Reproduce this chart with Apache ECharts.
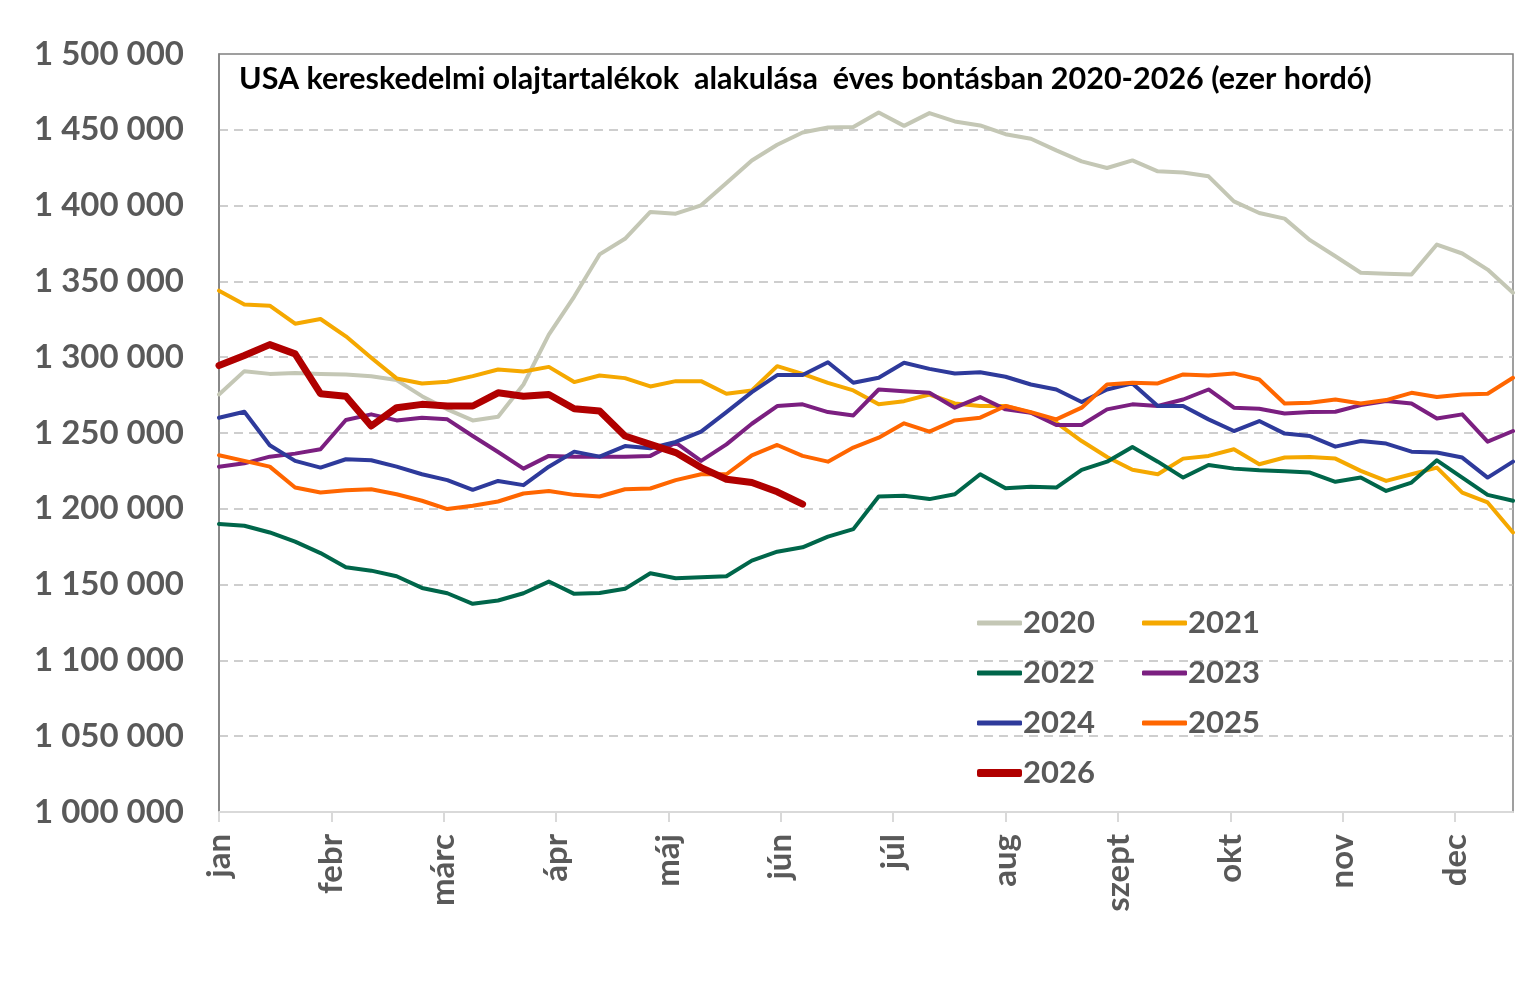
<!DOCTYPE html>
<html>
<head>
<meta charset="utf-8">
<script src="https://cdn.jsdelivr.net/npm/echarts@6/dist/echarts.min.js"></script>
<style>
html,body{margin:0;padding:0;background:#fff;}
#chart{width:1527px;height:997px;}
</style>
</head>
<body>
<div id="chart"></div>
<script>
// ---- data (ezer hordó), weekly values ----
const titleText = 'USA kereskedelmi olajtartalékok  alakulása  éves bontásban 2020-2026 (ezer hordó)';
const monthLabels = ['jan','febr','márc','ápr','máj','jún','júl','aug','szept','okt','nov','dec'];
const yTicks = [1000000, 1500000, 50000]; // min, max, step
const seriesNames = ['2020','2021','2022','2023','2024','2025','2026'];

const s2020 = [1275400,1290800,1289000,1289500,1289000,1288600,1287500,1284900,1274300,1265600,1258300,1260700,1282000,1314900,1340000,1367800,1378100,1395800,1394700,1400200,1414900,1429800,1440100,1448200,1451500,1451800,1461400,1452600,1461000,1455500,1452900,1447100,1444100,1436400,1429200,1424800,1429800,1422600,1421900,1419300,1402800,1395100,1391400,1377200,1366600,1355700,1355000,1354500,1374300,1368400,1357800,1342500];
const s2021 = [1343900,1334700,1334000,1322100,1325200,1313800,1299600,1286000,1282700,1283800,1287500,1291900,1290600,1293600,1283600,1287900,1286200,1280700,1284200,1284200,1275900,1278100,1294100,1289000,1283100,1278100,1269000,1271000,1275400,1269500,1267800,1267800,1263400,1256800,1244700,1234200,1225700,1222800,1233100,1234900,1239300,1229400,1233800,1234200,1233100,1225000,1218400,1222800,1227200,1210700,1204200,1184400];
const s2022 = [1190000,1188800,1184400,1178300,1170800,1161400,1159200,1155500,1147800,1144300,1137300,1139500,1144300,1152000,1143900,1144500,1147200,1157500,1154200,1154800,1155500,1165800,1171700,1174600,1181600,1186600,1208100,1208600,1206400,1209600,1222800,1213600,1214500,1214000,1225700,1231100,1240800,1231100,1220600,1228900,1226500,1225400,1224800,1223900,1217800,1220600,1211800,1217300,1232000,1220600,1209200,1205300];
const s2023 = [1227800,1230000,1234400,1236400,1239300,1258600,1262300,1258300,1260100,1259000,1248000,1237500,1226500,1234900,1234400,1234400,1234400,1234900,1243600,1231600,1242500,1256100,1267800,1268900,1263800,1261600,1278700,1277600,1276500,1266700,1273700,1265600,1263400,1255300,1255300,1265600,1268900,1267800,1272100,1278700,1266700,1266000,1262900,1263800,1264000,1268400,1271100,1269500,1259600,1262300,1244300,1251300];
const s2024 = [1260100,1264000,1241900,1231600,1227200,1232700,1232000,1227800,1222800,1218900,1212500,1218400,1215600,1227800,1237700,1234400,1241400,1239900,1244100,1250900,1263800,1277000,1288200,1288200,1296700,1283100,1286400,1296300,1292300,1289300,1290100,1287100,1282000,1278700,1270400,1278700,1282700,1267800,1267800,1259000,1251300,1257900,1249600,1248000,1241000,1244700,1243000,1237700,1237100,1233800,1220600,1231100];
const s2025 = [1235300,1231600,1227800,1214000,1210700,1212300,1212900,1209600,1205300,1199800,1202000,1204800,1210100,1211800,1209200,1208100,1212900,1213400,1218900,1222800,1222800,1235300,1242100,1234900,1231100,1240400,1246900,1256400,1250900,1258300,1260100,1267800,1263800,1259000,1266700,1282000,1283100,1282700,1288600,1287900,1289300,1285300,1269500,1270000,1272100,1269500,1271700,1276500,1273700,1275400,1275900,1286400];
const s2026 = [1294500,1301100,1308300,1302200,1275900,1274300,1254600,1266700,1268900,1267800,1267800,1276500,1274300,1275400,1266000,1264500,1248000,1242500,1237100,1227200,1219500,1217300,1211200,1203100];

const allSeries = [s2020, s2021, s2022, s2023, s2024, s2025, s2026];
const colors = ['#C4C7B5','#F5A800','#00664A','#7B1F80','#2E3A9B','#FF6600','#B00000'];
const widths = [4,4,4,4,4,4,7];

const DAYS_PER_WEEK = 7, DAYS_PER_MONTH = 31;
const toPairs = arr => arr.map((v, i) => [i * DAYS_PER_WEEK, v]);
const monthValues = monthLabels.map((_, i) => i * DAYS_PER_MONTH);
const fmtNum = v => String(v).replace(/\B(?=(\d{3})+(?!\d))/g, ' ');

const FONT = 'Lato';
const GRAY = '#595959';

const chart = echarts.init(document.getElementById('chart'), null, {renderer: 'canvas'});

const legendCommon = {
  orient: 'vertical',
  selectedMode: false,
  icon: 'roundRect',
  itemWidth: 45,
  itemGap: 14,
  textStyle: {fontFamily: FONT, fontWeight: 'bold', fontSize: 31, color: GRAY, lineHeight: 36, padding: [0,0,0,-4]}
};

const option = {
  animation: false,
  backgroundColor: '#ffffff',
  title: {
    text: titleText,
    left: 234, top: 59,
    textStyle: {fontFamily: FONT, fontWeight: 'bold', fontSize: 30.5, color: '#000000'}
  },
  grid: {
    left: 219, right: 14, top: 54, bottom: 185,
    show: true, borderColor: '#808080', borderWidth: 1.5, backgroundColor: 'transparent',
    containLabel: false
  },
  legend: [
    Object.assign({}, legendCommon, {left: 972, top: 600, itemHeight: 5, data: ['2020','2022','2024']}),
    Object.assign({}, legendCommon, {left: 1137, top: 600, itemHeight: 5, data: ['2021','2023','2025']}),
    Object.assign({}, legendCommon, {left: 972, top: 750, itemHeight: 8, data: ['2026']})
  ],
  xAxis: {
    type: 'value',
    min: 0,
    max: (s2020.length - 1) * DAYS_PER_WEEK,
    interval: DAYS_PER_MONTH,
    axisLine: {show: true, lineStyle: {color: '#D9D9D9', width: 2}},
    axisTick: {show: true, length: 10, customValues: monthValues, lineStyle: {color: '#D9D9D9', width: 2}},
    axisLabel: {
      show: true, rotate: 90, margin: 22,
      customValues: monthValues,
      formatter: v => monthLabels[Math.round(v / DAYS_PER_MONTH)] || '',
      fontFamily: FONT, fontWeight: 'bold', fontSize: 33, color: GRAY
    },
    splitLine: {show: false}
  },
  yAxis: {
    type: 'value',
    min: yTicks[0], max: yTicks[1], interval: yTicks[2],
    axisLine: {show: true, lineStyle: {color: '#808080', width: 1.5}},
    axisTick: {show: false},
    axisLabel: {
      margin: 35, formatter: fmtNum,
      fontFamily: FONT, fontWeight: 'bold', fontSize: 33, color: GRAY
    },
    splitLine: {show: true, showMinLine: false, showMaxLine: false, lineStyle: {color: '#BFBFBF', width: 1.5, type: [9, 6]}}
  },
  series: allSeries.map((arr, k) => ({
    name: seriesNames[k],
    type: 'line',
    data: toPairs(arr),
    symbol: 'none',
    smooth: false,
    color: colors[k],
    lineStyle: {color: colors[k], width: widths[k], cap: 'round', join: 'round'},
    itemStyle: {color: colors[k]},
    z: 2 + k
  }))
};
chart.setOption(option);
</script>
</body>
</html>
